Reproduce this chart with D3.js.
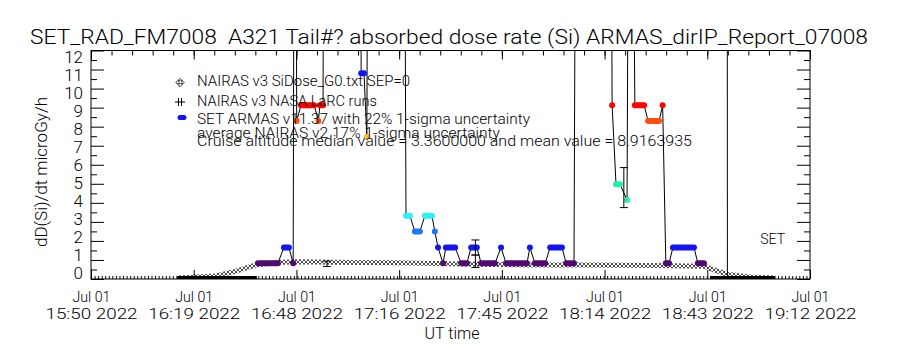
<!DOCTYPE html>
<html>
<head>
<meta charset="utf-8">
<script src="https://cdn.jsdelivr.net/npm/d3@7"></script>
<style>
body { margin: 0; background: #fff; }
text { font-family: Roboto, "DejaVu Sans", sans-serif; font-weight: 300; fill: #000; }
</style>
</head>
<body>
<div id="chart"></div>
<script>
// time is minutes after 15:50 UT, Jul 01 2022
var xMax = 202;
var xTickDay = "Jul 01";
var xTickTimes = ["15:50 2022", "16:19 2022", "16:48 2022", "17:16 2022", "17:45 2022", "18:14 2022", "18:43 2022", "19:12 2022"];
var yTicks = [0, 1, 2, 3, 4, 5, 6, 7, 8, 9, 10, 11, 12];
var yMinor = [0.5, 1.5, 2.5, 3.5, 4.5, 5.5, 6.5, 7.5, 8.5, 9.5, 10.5, 11.5];

// NAIRAS v3 SiDose_G0 curve
var nairasTime  = [24.2, 34.8, 40.5, 46.6, 53.1, 58.7, 67.1, 84.8, 100.9, 124.2, 143.0, 157.0, 172.5, 173.9, 178.7, 185.1, 192.2];
var nairasValue = [0.0,  0.1,  0.35, 0.7,  0.83, 0.85, 0.83, 0.8,  0.75,  0.68,  0.68,  0.65,  0.62,  0.5,   0.2,   0.05,  0.0];

// NAIRAS v3 NASA LaRC runs (zero dose stretches)
var larcStart = [24.2, 173.9];
var larcEnd   = [46.6, 192.2];

// SET ARMAS samples: run start, run end, dose rate (null = gap)
var armasStart = [46.9, 54.2, 56.8, 57.3, 57.8, 59.0, 63.9, 64.3, 65.5, 75.3, 75.9, 77.5, 78.1, 87.7, 88.5, 91.0, 93.8, 96.6, 97.5, 98.9, 99.7, 104.0, 106.8, 109.6, 115.2, 116.6, 123.3, 124.7, 129.0, 133.5, 136.5, 145.8, 146.4, 147.5, 150.6, 151.4, 152.8, 156.5, 160.6, 161.5, 163.5, 170.5, 175.0, 178.7, 178.8];
var armasEnd   = [52.5, 55.6, 56.8, 57.3, 57.8, 62.7, 63.9, 65.2, 65.5, 75.3, 76.7, 77.5, 78.1, 87.7, 89.6, 92.4, 95.8, 96.6, 97.5, 98.9, 102.3, 105.6, 108.4, 113.5, 115.2, 122.5, 123.3, 127.6, 132.3, 135.7, 136.5, 145.8, 146.4, 148.6, 150.6, 151.4, 155.4, 159.6, 160.6, 162.4, 169.4, 172.2, 175.0, 178.7, 178.8];
var armasValue = [0.83, 1.66, 0.83, 40,   8.3,  9.13, 8.3,  9.13, 40,   40,   10.8, 7.47, 40,   40,   3.32, 2.49, 3.32, 2.49, 1.66, 0.83, 1.66,  0.83,  1.66,  0.83,  1.66,  0.83,  1.66,  0.83,  1.66,  0.83,  40,    40,    9.13,  4.98,  4.15,  40,    9.13,  8.3,   9.13,  0.83,  1.66,  0.83,  null,  40,    -1];

// 1-sigma error bars
var errTime = [66.3, 108.0, 108.0, 149.7];
var errLow  = [0.66, 0.6,   1.26,  3.75];
var errHigh = [0.94, 1.26,  2.05,  5.85];

var legendLabels = ["NAIRAS v3 SiDose_G0.txt SEP=0", "NAIRAS v3 NASA LaRC runs", "SET ARMAS v11.37 with 22% 1-sigma uncertainty", "average NAIRAS v2 17% 1-sigma uncertainty", "Cruise altitude median value = 3.3600000 and mean value = 8.9163935"];
var titleText = "SET_RAD_FM7008  A321 Tail#? absorbed dose rate (Si) ARMAS_dirIP_Report_07008";

var width = 900, height = 350;
var margin = {top: 50.5, right: 90, bottom: 71, left: 91};

var x = d3.scaleLinear().domain([0, xMax]).range([margin.left, width - margin.right]);
var y = d3.scaleLinear().domain([0, 12]).range([height - margin.bottom, margin.top]);
// tick labels sit on a slightly tighter spacing than the ticks
var yLab = d3.scaleLinear().domain([0, 12]).range([273, 57]);

var color = d3.scaleThreshold()
    .domain([1.2, 2.0, 2.9, 3.8, 6.0, 8.0, 8.8, 10.0])
    .range(["#500a70", "#1414f0", "#1e78f0", "#30f0f0", "#28f0a0", "#f0c028", "#ff5010", "#ff0000", "#1414f0"]);

var svg = d3.select("#chart").append("svg")
    .attr("width", width).attr("height", height)
    .attr("viewBox", [0, 0, width, height]);

var defs = svg.append("defs");
defs.append("clipPath").attr("id", "plot")
  .append("rect")
    .attr("x", margin.left).attr("y", margin.top)
    .attr("width", width - margin.left - margin.right)
    .attr("height", height - margin.top - margin.bottom);
defs.append("pattern").attr("id", "hatch")
    .attr("patternUnits", "userSpaceOnUse").attr("width", 4).attr("height", 4)
  .append("path")
    .attr("d", "M0,0L4,4M4,0L0,4")
    .attr("stroke", "#000").attr("stroke-width", 0.7);

var majorX = xTickTimes.map((d, i) => i * xMax / 7);
var minorTop = d3.range(0, 36).map(i => i * xMax / 35);
var minorBottom = d3.range(0, xMax + 1);

// axes
svg.append("g")
    .attr("transform", `translate(${margin.left},0)`)
    .call(d3.axisLeft(y).tickValues(yTicks).tickSize(-13).tickPadding(8))
    .call(g => g.selectAll(".tick text")
        .attr("transform", d => `translate(0,${yLab(d) - y(d)})`)
        .style("font-size", "17px"));
svg.append("g")
    .attr("transform", `translate(${margin.left},0)`)
    .call(d3.axisLeft(y).tickValues(yMinor).tickSize(-6).tickFormat(""));
svg.append("g")
    .attr("transform", `translate(${width - margin.right},0)`)
    .call(d3.axisRight(y).tickValues(yTicks).tickSize(-13).tickFormat(""));
svg.append("g")
    .attr("transform", `translate(${width - margin.right},0)`)
    .call(d3.axisRight(y).tickValues(yMinor).tickSize(-6).tickFormat(""));

svg.append("g")
    .attr("transform", `translate(0,${margin.top})`)
    .call(d3.axisTop(x).tickValues(minorTop).tickSize(-5).tickFormat(""));
svg.append("g")
    .attr("transform", `translate(0,${margin.top})`)
    .call(d3.axisTop(x).tickValues(majorX).tickSize(-9).tickFormat(""));
svg.append("g")
    .attr("transform", `translate(0,${height - margin.bottom})`)
    .call(d3.axisBottom(x).tickValues(minorBottom).tickSize(-3).tickFormat(""));
svg.append("g")
    .attr("transform", `translate(0,${height - margin.bottom})`)
    .call(d3.axisBottom(x).tickValues(majorX).tickSize(-9).tickPadding(12)
        .tickFormat((d, i) => xTickDay))
    .call(g => g.selectAll(".tick text")
        .attr("textLength", 38).attr("lengthAdjust", "spacingAndGlyphs")
        .style("font-size", "15px"))
    .call(g => g.selectAll(".tick").append("text")
        .attr("y", 40).attr("fill", "#000")
        .attr("textLength", 92).attr("lengthAdjust", "spacingAndGlyphs")
        .style("font-size", "15px")
        .text((d, i) => xTickTimes[i]));

svg.selectAll(".domain").remove();
svg.selectAll(".tick line").attr("stroke", "#000");

svg.append("rect")
    .attr("x", margin.left).attr("y", margin.top)
    .attr("width", width - margin.left - margin.right)
    .attr("height", height - margin.top - margin.bottom)
    .attr("fill", "none").attr("stroke", "#000");

var plot = svg.append("g").attr("clip-path", "url(#plot)");

// NAIRAS SiDose curve, drawn as a chain of hatched symbols
var nairas = nairasTime.map((t, i) => [t, nairasValue[i]]);
plot.append("path")
    .datum(nairas)
    .attr("fill", "none")
    .attr("stroke", "url(#hatch)")
    .attr("stroke-width", 5)
    .attr("d", d3.line().x(d => x(d[0])).y(d => y(d[1]) - 1));

// LaRC zero runs
plot.append("g").selectAll("line")
    .data(larcStart)
    .join("line")
    .attr("x1", d => x(d))
    .attr("x2", (d, i) => x(larcEnd[i]))
    .attr("y1", y(0) - 1.5).attr("y2", y(0) - 1.5)
    .attr("stroke", "#000").attr("stroke-width", 3);

// ARMAS connecting line
var armasPts = [];
armasStart.forEach((t, i) => {
    armasPts.push([t, armasValue[i]]);
    if (armasEnd[i] > t) armasPts.push([armasEnd[i], armasValue[i]]);
});
plot.append("path")
    .datum(armasPts)
    .attr("fill", "none")
    .attr("stroke", "#000")
    .attr("stroke-width", 1)
    .attr("d", d3.line().defined(d => d[1] != null).x(d => x(d[0])).y(d => y(d[1])));

// ARMAS samples
var runs = armasStart.map((t, i) => ({t0: t, t1: armasEnd[i], v: armasValue[i]}))
    .filter(d => d.v != null && d.v > 0 && d.v < 12);
plot.append("g").selectAll("line")
    .data(runs)
    .join("line")
    .attr("x1", d => x(d.t0)).attr("x2", d => x(d.t1))
    .attr("y1", d => y(d.v)).attr("y2", d => y(d.v))
    .attr("stroke", d => color(d.v))
    .attr("stroke-width", 6)
    .attr("stroke-linecap", "round");

// error bars
var eb = plot.append("g").selectAll("g")
    .data(errTime)
    .join("g")
    .attr("stroke", "#000").attr("stroke-width", 1);
eb.append("line")
    .attr("x1", d => x(d)).attr("x2", d => x(d))
    .attr("y1", (d, i) => y(errLow[i])).attr("y2", (d, i) => y(errHigh[i]));
eb.append("line")
    .attr("x1", d => x(d) - 4).attr("x2", d => x(d) + 4)
    .attr("y1", (d, i) => y(errLow[i])).attr("y2", (d, i) => y(errLow[i]));
eb.append("line")
    .attr("x1", d => x(d) - 4).attr("x2", d => x(d) + 4)
    .attr("y1", (d, i) => y(errHigh[i])).attr("y2", (d, i) => y(errHigh[i]));

// legend
var lg = svg.append("g");
var legendY = [81, 101, 119, 133, 141];
var legendW = [213, 180, 333, 303, 495];
lg.selectAll("text")
    .data(legendLabels)
    .join("text")
    .attr("x", 197)
    .attr("y", (d, i) => legendY[i] + 5)
    .attr("textLength", (d, i) => legendW[i])
    .attr("lengthAdjust", "spacingAndGlyphs")
    .style("font-size", "14px")
    .text(d => d);
lg.append("rect")
    .attr("x", 177).attr("y", 79.5).attr("width", 6).attr("height", 6)
    .attr("transform", "rotate(45,180,82.5)")
    .attr("fill", "url(#hatch)").attr("stroke", "#000").attr("stroke-width", 0.6);
lg.append("path")
    .attr("d", "M175,102H185M178.5,98V106M181.5,98V106")
    .attr("stroke", "#000").attr("stroke-width", 1);
lg.append("line")
    .attr("x1", 180).attr("x2", 184).attr("y1", 117.5).attr("y2", 117.5)
    .attr("stroke", color(1.66)).attr("stroke-width", 5).attr("stroke-linecap", "round");

svg.append("text")
    .attr("x", 30).attr("y", 44)
    .attr("textLength", 838).attr("lengthAdjust", "spacingAndGlyphs")
    .style("font-size", "21px")
    .style("white-space", "pre")
    .text(titleText);

svg.append("text")
    .attr("transform", "translate(47,172) rotate(-90)")
    .attr("text-anchor", "middle")
    .attr("textLength", 150).attr("lengthAdjust", "spacingAndGlyphs")
    .style("font-size", "16px")
    .text("dD(Si)/dt microGy/h");

svg.append("text")
    .attr("x", 452).attr("y", 339)
    .attr("text-anchor", "middle")
    .style("font-size", "16px")
    .text("UT time");

svg.append("text")
    .attr("x", 785).attr("y", 244)
    .attr("text-anchor", "end")
    .style("font-size", "14px")
    .text("SET");
</script>
</body>
</html>
